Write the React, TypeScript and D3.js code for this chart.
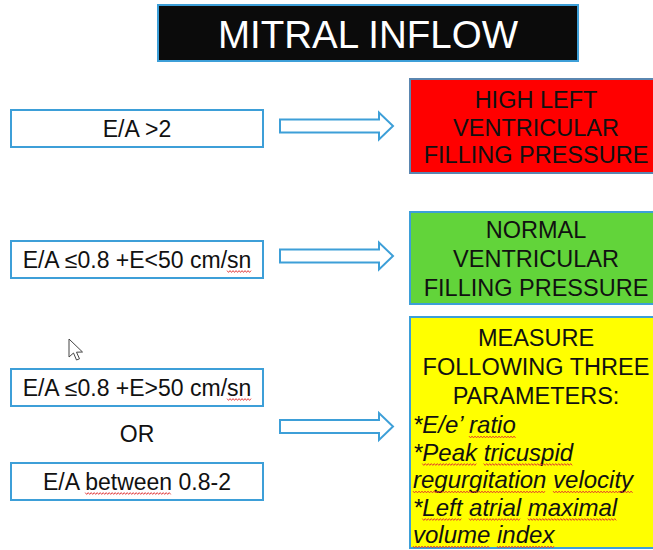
import React, { useEffect, useRef } from "react";
import * as d3 from "d3";

const title = "MITRAL INFLOW";
const conditions = ["E/A >2", "E/A ≤0.8 +E<50 cm/sn", "E/A ≤0.8 +E>50 cm/sn", "E/A between 0.8-2"];
const conditionFlags = [[], ["sn"], ["sn"], ["between"]];
const orLabel = "OR";
const outcomes = [
  ["HIGH LEFT", "VENTRICULAR", "FILLING PRESSURE"],
  ["NORMAL", "VENTRICULAR", "FILLING PRESSURE"],
  ["MEASURE", "FOLLOWING THREE", "PARAMETERS:"],
];
const parameters = ["*E/e’ ratio", "*Peak tricuspid", "regurgitation velocity", "*Left atrial maximal", "volume index"];
const parameterFlags = [["ratio"], ["Peak", "tricuspid"], ["regurgitation", "velocity"], ["Left", "atrial", "maximal"], ["volume", "index"]];

const FONT = "'Liberation Sans', Arial, sans-serif";
const BLUE = "#3d9fd8";
const W = 653, H = 550;

export default function App() {
  const ref = useRef<SVGSVGElement>(null);
  useEffect(() => {
    const svg = d3.select(ref.current);
    svg.selectAll("*").remove();
    svg.append("rect").attr("width", W).attr("height", H).attr("fill", "#fff");

    const wave = (x0: number, x1: number, y: number) => {
      const pts: [number, number][] = [];
      let k = 0;
      for (let x = x0; x <= x1; x += 1.5, k++) pts.push([x, y + (k % 2 ? 1 : -1) * 0.9]);
      svg.append("path").attr("d", d3.line()(pts)).attr("fill", "none").attr("stroke", "#e03030").attr("stroke-width", 0.9);
    };
    const flag = (node: SVGTextElement, s: string, words: string[]) => {
      words.forEach((w) => {
        const i = s.indexOf(w);
        if (i < 0) return;
        const p = node.getStartPositionOfChar(i);
        const len = node.getSubStringLength(i, w.length);
        wave(p.x, p.x + len, p.y + 4);
      });
    };

    // Title
    svg.append("rect").attr("x", 158).attr("y", 5).attr("width", 420).attr("height", 56)
      .attr("fill", "#0b0b0b").attr("stroke", BLUE).attr("stroke-width", 2);
    svg.append("text").attr("x", 368).attr("y", 48).attr("text-anchor", "middle")
      .attr("font-family", FONT).attr("font-size", 38.5).attr("fill", "#fff").text(title);

    // Left condition boxes
    const boxY = [110, 241, 369, 463];
    const boxH = 37;
    const xL = 11, wL = 252;
    conditions.forEach((c, i) => {
      svg.append("rect").attr("x", xL).attr("y", boxY[i]).attr("width", wL).attr("height", boxH)
        .attr("fill", "#fff").attr("stroke", BLUE).attr("stroke-width", 2);
      const t = svg.append("text").attr("x", xL + wL / 2).attr("y", boxY[i] + 26.5).attr("text-anchor", "middle")
        .attr("font-family", FONT).attr("font-size", 23).attr("fill", "#111").text(c);
      flag(t.node() as SVGTextElement, c, conditionFlags[i]);
    });
    svg.append("text").attr("x", xL + wL / 2).attr("y", 442).attr("text-anchor", "middle")
      .attr("font-family", FONT).attr("font-size", 23).attr("fill", "#111").text(orLabel);

    // Arrows
    const arrowY = [126, 256, 426.5];
    const x0 = 280, xh = 379, xt = 393;
    const arrowLine = d3.line();
    arrowY.forEach((cy) => {
      const pts: [number, number][] = [
        [x0, cy - 6.5], [xh, cy - 6.5], [xh, cy - 13.5], [xt, cy], [xh, cy + 13.5], [xh, cy + 6.5], [x0, cy + 6.5],
      ];
      svg.append("path").attr("d", arrowLine(pts) + "Z").attr("fill", "#fff")
        .attr("stroke", BLUE).attr("stroke-width", 2).attr("stroke-linejoin", "miter");
    });

    // Outcome boxes
    const outY = [79, 212, 317];
    const outH = [94, 92, 231];
    const outFill = ["#ff0000", "#62d43a", "#ffff00"];
    const xR = 410, wR = 252;
    const cxR = 536;
    const lineH = 27.5;
    outcomes.forEach((lines, i) => {
      svg.append("rect").attr("x", xR).attr("y", outY[i]).attr("width", wR).attr("height", outH[i])
        .attr("fill", outFill[i]).attr("stroke", i === 0 ? "#5a86b0" : BLUE).attr("stroke-width", 2);
      const first = [108, 238, 346][i];
      const lh = [27.5, 29, 29][i];
      lines.forEach((l, j) => {
        svg.append("text").attr("x", cxR).attr("y", first + j * lh).attr("text-anchor", "middle")
          .attr("font-family", FONT).attr("font-size", 23.5).attr("fill", "#111").text(l);
      });
    });
    parameters.forEach((p, j) => {
      const t = svg.append("text").attr("x", 413).attr("y", 433 + j * lineH)
        .attr("font-family", FONT).attr("font-size", 24).attr("font-style", "italic").attr("fill", "#111").text(p);
      flag(t.node() as SVGTextElement, p, parameterFlags[j]);
    });

    // Mouse cursor
    const cur: [number, number][] = [[69, 339], [69, 357], [73.5, 353], [76.5, 360], [79.5, 358.8], [76.5, 352.2], [82.5, 352]];
    svg.append("path").attr("d", d3.line()(cur) + "Z").attr("fill", "#fff").attr("stroke", "#444").attr("stroke-width", 1);
  }, []);
  return <svg ref={ref} width={W} height={H} style={{ position: "absolute", left: 0, top: 0 }} />;
}
